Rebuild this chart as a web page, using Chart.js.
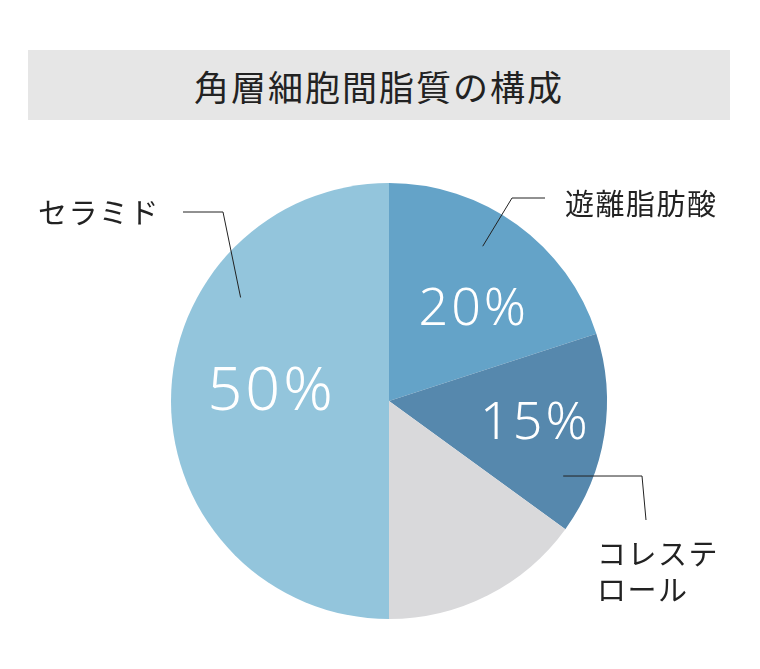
<!DOCTYPE html>
<html lang="ja">
<head>
<meta charset="utf-8">
<script src="https://cdn.jsdelivr.net/npm/chart.js@4"></script>
<style>
  html, body { margin: 0; padding: 0; background: #fff; }
  #wrap { position: relative; width: 760px; height: 669px; }
  #title {
    position: absolute; left: 28px; top: 50px; width: 702px; height: 70px;
    background: #e6e6e6; color: #222;
    font: 400 35px "Noto Sans CJK JP", sans-serif;
    display: flex; align-items: center; justify-content: center; letter-spacing: 2px;
  }
  canvas { position: absolute; left: 0; top: 0; }
</style>
</head>
<body>
<div id="wrap">
  <div id="title">角層細胞間脂質の構成</div>
  <canvas id="lipidChart" width="760" height="669"></canvas>
</div>
<script>
// 構成比（%）時計回り、12時から
const parts = ['遊離脂肪酸', 'コレステロール', 'その他', 'セラミド'];
const ratio = [20, 15, 15, 50];
const pctLabels = ['20%', '15%', '', '50%'];
const sliceColors = ['#64a3c8', '#5688ad', '#d9d9db', '#93c5dc'];

// ラベル位置（中心角からのずれ・半径比）
const pctPos = [
  { r: 0.57, da: 7, size: 52 },
  { r: 0.68, da: 0, size: 52 },
  null,
  { r: 0.54, da: 4, size: 61 }
];

// 引き出し線: 扇形内の点(角度, 半径比) → 折れ点 → 端点（中心からのずれ）
const leaders = [
  { angle: -58.8, r: 0.83, elbow: [123, -203], end: [156, -203],
    lines: ['遊離脂肪酸'], tx: 176, ty: -197, align: 'left' },
  { angle: 23.3, r: 0.87, elbow: [253, 75], end: [257, 119],
    lines: ['コレステ', 'ロール'], tx: 208, ty: 153, align: 'left' },
  { angle: -145.1, r: 0.83, elbow: [-166, -189], end: [-206, -189],
    lines: ['セラミド'], tx: -229, ty: -188, align: 'right' }
];

const labelPlugin = {
  id: 'labelPlugin',
  afterDraw(chart) {
    const ctx = chart.ctx;
    const arcs = chart.getDatasetMeta(0).data;
    const cx = arcs[0].x, cy = arcs[0].y, R = arcs[0].outerRadius;

    // パーセント
    ctx.save();
    ctx.fillStyle = '#fff';
    ctx.textAlign = 'center';
    ctx.textBaseline = 'middle';
    ctx.letterSpacing = '3px';
    arcs.forEach((arc, i) => {
      if (!pctPos[i]) return;
      const mid = (arc.startAngle + arc.endAngle) / 2 + pctPos[i].da * Math.PI / 180;
      const x = cx + Math.cos(mid) * R * pctPos[i].r;
      const y = cy + Math.sin(mid) * R * pctPos[i].r;
      ctx.font = '300 ' + pctPos[i].size + 'px "Noto Sans", "Noto Sans CJK JP", sans-serif';
      ctx.fillText(pctLabels[i], x, y);
    });
    ctx.restore();

    // 引き出し線と項目名
    ctx.save();
    ctx.strokeStyle = '#222';
    ctx.lineWidth = 1;
    ctx.fillStyle = '#222';
    ctx.font = '400 29px "Noto Sans CJK JP", sans-serif';
    ctx.letterSpacing = '1.5px';
    ctx.textBaseline = 'middle';
    leaders.forEach(l => {
      const a = l.angle * Math.PI / 180;
      ctx.beginPath();
      ctx.moveTo(cx + Math.cos(a) * R * l.r, cy + Math.sin(a) * R * l.r);
      ctx.lineTo(cx + l.elbow[0], cy + l.elbow[1]);
      ctx.lineTo(cx + l.end[0], cy + l.end[1]);
      ctx.stroke();
      ctx.textAlign = l.align;
      l.lines.forEach((t, k) => {
        ctx.fillText(t, cx + l.tx, cy + l.ty + k * 36);
      });
    });
    ctx.restore();
  }
};

const ctx = document.getElementById('lipidChart').getContext('2d');
new Chart(ctx, {
  type: 'pie',
  data: {
    labels: parts,
    datasets: [{
      data: ratio,
      backgroundColor: sliceColors,
      borderWidth: 0
    }]
  },
  options: {
    responsive: false,
    animation: false,
    layout: { padding: { left: 171, right: 153, top: 183, bottom: 50 } },
    plugins: {
      legend: { display: false },
      tooltip: { enabled: false }
    }
  },
  plugins: [labelPlugin]
});
</script>
</body>
</html>
